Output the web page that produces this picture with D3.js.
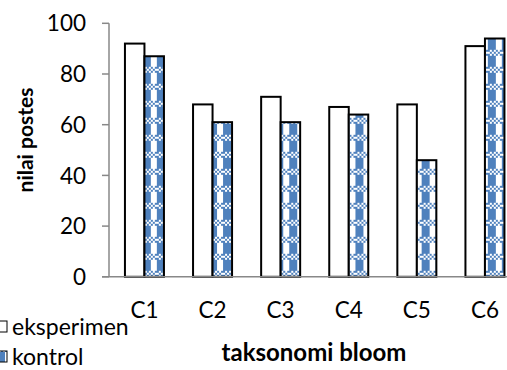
<!DOCTYPE html>
<html>
<head>
<meta charset="utf-8">
<script src="https://cdn.jsdelivr.net/npm/d3@7"></script>
<style>
  html, body { margin: 0; padding: 0; background: #fff; }
  svg { display: block; font-family: Lato, "Liberation Sans", sans-serif; }
</style>
</head>
<body>
<svg id="chart" width="507" height="370"></svg>
<script>
// Nilai postes per level taksonomi Bloom
const categories = ["C1", "C2", "C3", "C4", "C5", "C6"];
const seriesNames = ["eksperimen", "kontrol"];
const eksperimen = [92, 68, 71, 67, 68, 91];
const kontrol = [87, 61, 61, 64, 46, 94];
const yTicks = [0, 20, 40, 60, 80, 100];

const blue = "#4F81BD";
const svg = d3.select("#chart");
const defs = svg.append("defs");

const x = d3.scaleBand().domain(categories).range([110.4, 519]);
const xs = d3.scaleBand().domain(seriesNames).range([0, x.bandwidth()]).paddingOuter(0.746);
const y = d3.scaleLinear().domain([0, 100]).range([276.8, 23.3]);

const rows = categories.map((c, i) => ({ c, eksperimen: eksperimen[i], kontrol: kontrol[i] }));

// checkered fill for the "kontrol" series, anchored at each bar's left edge
function makePattern(id, x0, y0) {
  const p = defs.append("pattern")
    .attr("id", id)
    .attr("patternUnits", "userSpaceOnUse")
    .attr("x", x0).attr("y", y0)
    .attr("width", 14).attr("height", 17);
  p.append("rect").attr("width", 14).attr("height", 17).attr("fill", "#fff");
  p.append("rect").attr("x", 0).attr("y", 0).attr("width", 8).attr("height", 11).attr("fill", blue);
  for (let r = 0; r < 3; r++) {
    for (let c = 0; c < 7; c++) {
      if ((r + c) % 2 === 0) {
        p.append("rect").attr("x", c * 2).attr("y", 11 + r * 2)
          .attr("width", 2).attr("height", 2).attr("fill", blue);
      }
    }
  }
}

// y axis
const yAxis = svg.append("g").attr("transform", "translate(109,0)");
yAxis.append("line").attr("x1", 0).attr("x2", 0)
  .attr("y1", y(0)).attr("y2", y(100)).attr("stroke", "#888").attr("stroke-width", 1.5);
yAxis.selectAll("line.tick").data(yTicks).join("line")
  .attr("class", "tick")
  .attr("x1", -7).attr("x2", 0)
  .attr("y1", d => y(d)).attr("y2", d => y(d))
  .attr("stroke", "#888").attr("stroke-width", 1.5);
yAxis.selectAll("text").data(yTicks).join("text")
  .attr("x", -23).attr("y", d => y(d))
  .attr("dy", "0.36em")
  .attr("text-anchor", "end")
  .attr("font-size", 22.5)
  .attr("fill", "#000")
  .text(d => d);

// bars
const groups = svg.append("g").selectAll("g").data(rows).join("g")
  .attr("transform", d => `translate(${x(d.c)},0)`);

groups.append("rect")
  .attr("x", xs("eksperimen"))
  .attr("y", d => y(d.eksperimen))
  .attr("width", xs.bandwidth())
  .attr("height", d => y(0) - y(d.eksperimen))
  .attr("fill", "#fff")
  .attr("stroke", "#000")
  .attr("stroke-width", 2);

groups.each(function (d, i) {
  const bx = x(d.c) + xs("kontrol");
  makePattern("pat" + i, bx, y(0));
  d3.select(this).append("rect")
    .attr("x", xs("kontrol"))
    .attr("y", y(d.kontrol))
    .attr("width", xs.bandwidth())
    .attr("height", y(0) - y(d.kontrol))
    .attr("fill", `url(#pat${i})`)
    .attr("stroke", "#000")
    .attr("stroke-width", 2);
});

// x axis baseline
svg.append("line")
  .attr("x1", 102).attr("x2", 507)
  .attr("y1", y(0)).attr("y2", y(0))
  .attr("stroke", "#888").attr("stroke-width", 1.5);

// category labels
svg.append("g").selectAll("text").data(categories).join("text")
  .attr("x", d => x(d) + x.bandwidth() / 2)
  .attr("y", 310)
  .attr("dy", "0.36em")
  .attr("text-anchor", "middle")
  .attr("font-size", 22.5)
  .text(d => d);

// axis titles
svg.append("text")
  .attr("x", 314).attr("y", 352).attr("dy", "0.36em")
  .attr("text-anchor", "middle")
  .attr("font-size", 24).attr("font-weight", "bold")
  .text("taksonomi bloom");

svg.append("text")
  .attr("transform", "translate(25,140) rotate(-90)")
  .attr("dy", "0.36em")
  .attr("text-anchor", "middle")
  .attr("font-size", 21).attr("font-weight", "bold")
  .text("nilai postes");

// legend
const legend = svg.append("g");
makePattern("patLegend", -3, 352);
const legendItems = [
  { name: seriesNames[0], fill: "#fff", y: 327 },
  { name: seriesNames[1], fill: "url(#patLegend)", y: 357 }
];
legend.selectAll("rect").data(legendItems).join("rect")
  .attr("x", -4).attr("y", d => d.y - 6)
  .attr("width", 11).attr("height", 11)
  .attr("fill", d => d.fill)
  .attr("stroke", "#000").attr("stroke-width", 1);
legend.selectAll("text").data(legendItems).join("text")
  .attr("x", 12).attr("y", d => d.y).attr("dy", "0.34em")
  .attr("font-size", 23)
  .text(d => d.name);
</script>
</body>
</html>
